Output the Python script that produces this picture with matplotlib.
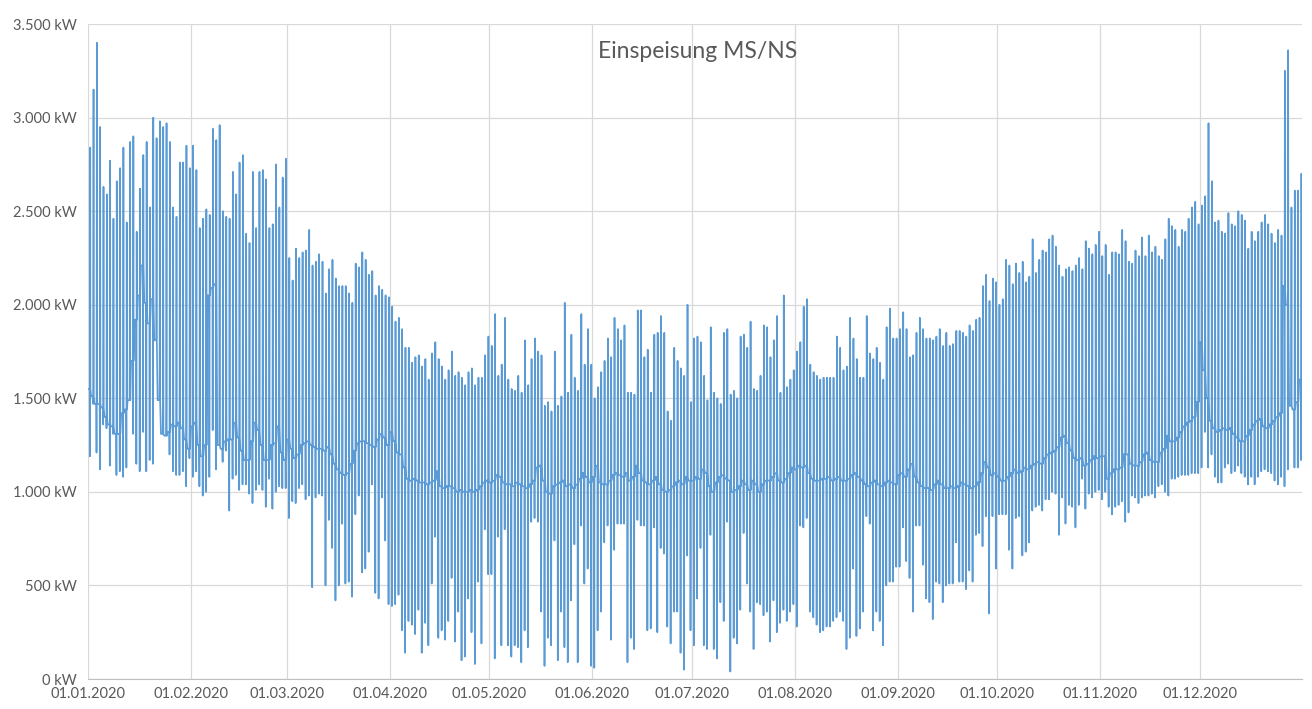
import numpy as np
import pandas as pd
import matplotlib
matplotlib.use('Agg')
import matplotlib.pyplot as plt
from matplotlib.ticker import FuncFormatter

# Daily readings (kW)
# peak = evening maximum, low = midday minimum, base = night level
peak_jan = [2840, 3150, 3400, 2950, 2630, 2590, 2770, 2460, 2660, 2730, 2840, 2440, 2870, 2900, 2390, 2620,
            2800, 2870, 2520, 3000, 2890, 2980, 2950, 2970, 2870, 2520, 2470, 2760, 2760, 2850, 2730]
peak_feb = [2850, 2720, 2410, 2460, 2510, 2480, 2940, 2880, 2960, 2500, 2470, 2460, 2710, 2590, 2760,
            2800, 2380, 2330, 2710, 2410, 2710, 2720, 2670, 2410, 2430, 2750, 2520, 2680, 2780]
peak_mar = [2250, 2130, 2300, 2250, 2280, 2290, 2400, 2210, 2230, 2270, 2230, 2060, 2190, 2240, 2140, 2100,
            2100, 2100, 2060, 2010, 2220, 2200, 2280, 2240, 2160, 2180, 2050, 2100, 2080, 2050, 2040]
peak_apr = [1990, 1910, 1930, 1870, 1770, 1770, 1690, 1720, 1730, 1670, 1710, 1600, 1740, 1800, 1710,
            1670, 1600, 1650, 1750, 1620, 1640, 1610, 1570, 1640, 1660, 1570, 1610, 1610, 1730, 1830]
peak_may = [1780, 1950, 1620, 1680, 1930, 1600, 1550, 1540, 1620, 1530, 1810, 1570, 1710, 1820, 1750, 1730,
            1460, 1480, 1430, 1750, 1460, 1510, 2010, 1530, 1840, 1610, 1540, 1950, 1680, 1870, 1680]
peak_jun = [1500, 1560, 1640, 1700, 1820, 1720, 1930, 1870, 1810, 1890, 1530, 1530, 1520, 1970, 1970,
            1720, 1760, 1530, 1840, 1850, 1940, 1850, 1430, 1380, 1770, 1700, 1660, 1620, 2000, 1480]
peak_jul = [1820, 1830, 1800, 1620, 1490, 1880, 1530, 1500, 1470, 1850, 1870, 1520, 1540, 1500, 1830, 1840,
            1770, 1910, 1550, 1540, 1620, 1890, 1880, 1720, 1810, 1940, 1530, 2050, 1560, 1600, 1650]
peak_aug = [1750, 1800, 1990, 2030, 1680, 1640, 1620, 1600, 1610, 1610, 1610, 1610, 1830, 1770, 1650, 1670,
            1930, 1820, 1710, 1610, 1610, 1940, 1740, 1710, 1770, 1690, 1600, 1880, 1980, 1820, 1820]
peak_sep = [1870, 1960, 1870, 1720, 1730, 1850, 1930, 1870, 1820, 1820, 1810, 1830, 1870, 1780, 1850,
            1780, 1790, 1860, 1860, 1850, 1830, 1890, 1860, 1920, 1930, 2100, 2160, 2020, 2140, 2120]
peak_oct = [2000, 2030, 2240, 2210, 2110, 2220, 2170, 2230, 2120, 2150, 2350, 2170, 2240, 2290, 2280, 2350,
            2370, 2310, 2210, 2150, 2190, 2200, 2180, 2210, 2250, 2190, 2340, 2300, 2270, 2320, 2390]
peak_nov = [2260, 2320, 2160, 2280, 2280, 2270, 2400, 2340, 2230, 2220, 2290, 2260, 2360, 2260, 2370,
            2280, 2310, 2260, 2240, 2350, 2460, 2420, 2400, 2310, 2400, 2390, 2460, 2520, 2550, 2430]
peak_dec = [2530, 2580, 2970, 2660, 2440, 2450, 2390, 2380, 2490, 2430, 2420, 2500, 2480, 2450, 2300, 2390,
            2340, 2390, 2440, 2480, 2430, 2380, 2330, 2400, 2370, 3250, 3360, 2520, 2610, 2610, 2700]

low_jan = [1190, 1470, 1210, 1120, 1360, 1340, 1140, 1310, 1090, 1110, 1080, 1130, 1740, 1310, 1150, 1110,
           1320, 1110, 1170, 1150, 1820, 1600, 1580, 1460, 1200, 1110, 1090, 1090, 1110, 1030, 1180]
low_feb = [1080, 1110, 1030, 980, 1000, 1080, 1330, 1120, 1250, 1160, 1220, 900, 1070, 1090, 1010,
           1040, 1040, 990, 940, 1010, 1040, 1010, 920, 1070, 910, 1000, 1030, 1020, 1020]
low_mar = [860, 950, 940, 1020, 1040, 960, 980, 490, 970, 990, 980, 500, 850, 700, 420, 500,
           830, 510, 520, 440, 880, 980, 570, 590, 680, 1040, 460, 430, 970, 740, 400]
low_apr = [390, 400, 450, 260, 140, 310, 290, 240, 370, 140, 300, 180, 510, 760, 220,
           260, 210, 310, 540, 200, 360, 100, 120, 430, 250, 80, 520, 190, 800, 560]
low_may = [560, 110, 760, 180, 800, 180, 120, 180, 170, 90, 260, 170, 840, 860, 840, 360,
           70, 220, 180, 740, 100, 360, 170, 90, 420, 720, 90, 820, 510, 590, 70]
low_jun = [60, 260, 360, 730, 820, 210, 690, 830, 830, 830, 90, 220, 160, 850, 820,
           820, 260, 270, 810, 250, 700, 670, 280, 190, 360, 360, 140, 50, 660, 260]
low_jul = [180, 430, 700, 180, 160, 770, 160, 110, 410, 310, 840, 40, 220, 190, 370, 780,
           510, 360, 160, 410, 400, 340, 360, 200, 420, 250, 300, 370, 310, 360, 400]
low_aug = [280, 820, 810, 860, 360, 330, 290, 250, 260, 280, 280, 310, 330, 360, 310, 160,
           220, 590, 230, 270, 360, 870, 830, 260, 360, 310, 180, 500, 520, 520, 600]
low_sep = [600, 810, 630, 540, 360, 820, 820, 610, 430, 410, 320, 520, 510, 410, 500,
           510, 510, 730, 520, 520, 480, 580, 520, 770, 780, 710, 870, 350, 870, 590]
low_oct = [880, 880, 880, 690, 590, 860, 870, 660, 680, 730, 900, 920, 930, 900, 960, 960,
           1000, 990, 770, 970, 830, 930, 920, 810, 930, 1070, 910, 990, 970, 1000, 1010]
low_nov = [960, 1000, 920, 880, 920, 930, 950, 840, 890, 980, 970, 940, 970, 980, 980,
           990, 970, 1030, 1040, 1000, 980, 1070, 1070, 1080, 1090, 1090, 1090, 1100, 1100, 1100]
low_dec = [1130, 1320, 1130, 1200, 1080, 1050, 1050, 1130, 1150, 1100, 1110, 1140, 1100, 1080, 1040, 1080,
           1040, 1080, 1110, 1120, 1110, 1100, 1060, 1040, 1080, 1030, 1120, 1460, 1130, 1130, 1170]

base_jan = [1550, 1510, 1470, 1470, 1450, 1400, 1360, 1350, 1310, 1310, 1420, 1440, 1490, 1700, 1920, 2050,
            2210, 2010, 1900, 2030, 1810, 1490, 1310, 1300, 1320, 1360, 1350, 1370, 1340, 1280, 1230]
base_feb = [1350, 1370, 1250, 1190, 1250, 2050, 2090, 2110, 1250, 1230, 1270, 1280, 1280, 1370, 1290,
            1220, 1170, 1170, 1270, 1370, 1330, 1250, 1170, 1170, 1250, 1260, 1350, 1210, 1170]
base_mar = [1280, 1230, 1180, 1200, 1250, 1260, 1270, 1250, 1240, 1230, 1230, 1220, 1240, 1200, 1150, 1120,
            1100, 1090, 1100, 1150, 1220, 1260, 1270, 1270, 1260, 1250, 1240, 1280, 1310, 1290, 1250]
base_apr = [1320, 1270, 1210, 1200, 1130, 1070, 1060, 1070, 1060, 1050, 1050, 1040, 1050, 1060, 1110,
            1030, 1020, 1030, 1030, 1020, 1000, 1010, 1000, 1000, 1010, 1000, 1010, 1030, 1050, 1060]
base_may = [1050, 1060, 1090, 1080, 1050, 1040, 1040, 1030, 1050, 1040, 1030, 1020, 1040, 1060, 1130, 1140,
            1060, 1000, 990, 1030, 1040, 1050, 1060, 1030, 1040, 1020, 1040, 1070, 1100, 1080, 1050]
base_jun = [1080, 1140, 1050, 1040, 1040, 1060, 1090, 1100, 1090, 1080, 1100, 1060, 1080, 1140, 1100,
            1060, 1050, 1040, 1060, 1080, 1040, 1010, 1000, 1010, 1030, 1050, 1060, 1040, 1080, 1060]
base_jul = [1060, 1080, 1070, 1120, 1100, 1030, 1000, 1050, 1080, 1090, 1070, 1060, 1000, 1010, 1030, 1060,
            1040, 1010, 1060, 1040, 1000, 1040, 1060, 1060, 1080, 1100, 1060, 1050, 1070, 1100, 1130]
base_aug = [1120, 1140, 1130, 1140, 1100, 1070, 1060, 1060, 1070, 1070, 1080, 1060, 1070, 1080, 1060, 1060,
            1070, 1090, 1100, 1080, 1060, 1040, 1030, 1050, 1060, 1040, 1030, 1050, 1060, 1050, 1040]
base_sep = [1090, 1100, 1080, 1120, 1150, 1080, 1050, 1030, 1020, 1020, 1010, 1040, 1060, 1040, 1020,
            1020, 1030, 1020, 1030, 1050, 1040, 1030, 1020, 1030, 1050, 1100, 1160, 1130, 1090, 1100]
base_oct = [1080, 1060, 1060, 1080, 1100, 1120, 1100, 1110, 1130, 1120, 1140, 1150, 1160, 1150, 1180, 1200,
            1210, 1220, 1240, 1290, 1300, 1260, 1220, 1180, 1170, 1180, 1140, 1150, 1170, 1190, 1180]
base_nov = [1190, 1190, 1070, 1100, 1120, 1120, 1130, 1200, 1200, 1150, 1140, 1140, 1160, 1200, 1210,
            1170, 1160, 1160, 1210, 1230, 1300, 1270, 1270, 1290, 1320, 1350, 1370, 1380, 1400, 1480]
base_dec = [1800, 1650, 1500, 1380, 1340, 1320, 1330, 1340, 1330, 1340, 1310, 1290, 1270, 1270, 1300, 1330,
            1360, 1380, 1390, 1350, 1340, 1360, 1380, 1400, 1420, 2100, 2000, 1460, 1440, 1480, 1600]

month_labels = ['01.01.2020', '01.02.2020', '01.03.2020', '01.04.2020', '01.05.2020', '01.06.2020',
                '01.07.2020', '01.08.2020', '01.09.2020', '01.10.2020', '01.11.2020', '01.12.2020']
title = 'Einspeisung MS/NS'

peak = np.concatenate([peak_jan, peak_feb, peak_mar, peak_apr, peak_may, peak_jun,
                       peak_jul, peak_aug, peak_sep, peak_oct, peak_nov, peak_dec])
low = np.concatenate([low_jan, low_feb, low_mar, low_apr, low_may, low_jun,
                      low_jul, low_aug, low_sep, low_oct, low_nov, low_dec])
base = np.concatenate([base_jan, base_feb, base_mar, base_apr, base_may, base_jun,
                       base_jul, base_aug, base_sep, base_oct, base_nov, base_dec])

# one day: long night level, then a quick midday dip and evening peak
days = np.arange(len(peak))
day_shape = np.array([0.0, 0.55, 0.6, 0.7, 0.76])
t = (days[:, None] + day_shape[None, :]).ravel()
v = np.column_stack([base, base, low, peak, base]).ravel()

month_pos = (pd.date_range('2020-01-01', periods=12, freq='MS') - pd.Timestamp('2020-01-01')).days

plt.rcParams['font.family'] = ['Lato', 'DejaVu Sans']
fig = plt.figure(figsize=(13.12, 7.09), dpi=100)
ax = fig.add_axes([0.067, 0.0423, 0.9257, 0.9238])

ax.plot(t, v, color='#5B9BD5', lw=1.2)

ax.set_xlim(0, 366)
ax.set_ylim(0, 3500)
ax.set_xticks(month_pos)
ax.set_xticklabels(month_labels)
ax.set_yticks(np.arange(0, 3501, 500))
ax.yaxis.set_major_formatter(FuncFormatter(lambda y, _: f'{int(y):,} kW'.replace(',', '.')))
ax.tick_params(length=0, labelsize=10.5, colors='#595959', pad=8)
ax.tick_params(axis='x', pad=6)

ax.grid(color='#D9D9D9', lw=0.9)
ax.set_axisbelow(True)
for s in ['top', 'right', 'left']:
    ax.spines[s].set_visible(False)
ax.spines['bottom'].set_color('#BFBFBF')

ax.text(0.502, 0.958, title, transform=ax.transAxes, ha='center', va='center',
        fontsize=16.5, color='#595959')

plt.savefig('out.png', dpi=100)
